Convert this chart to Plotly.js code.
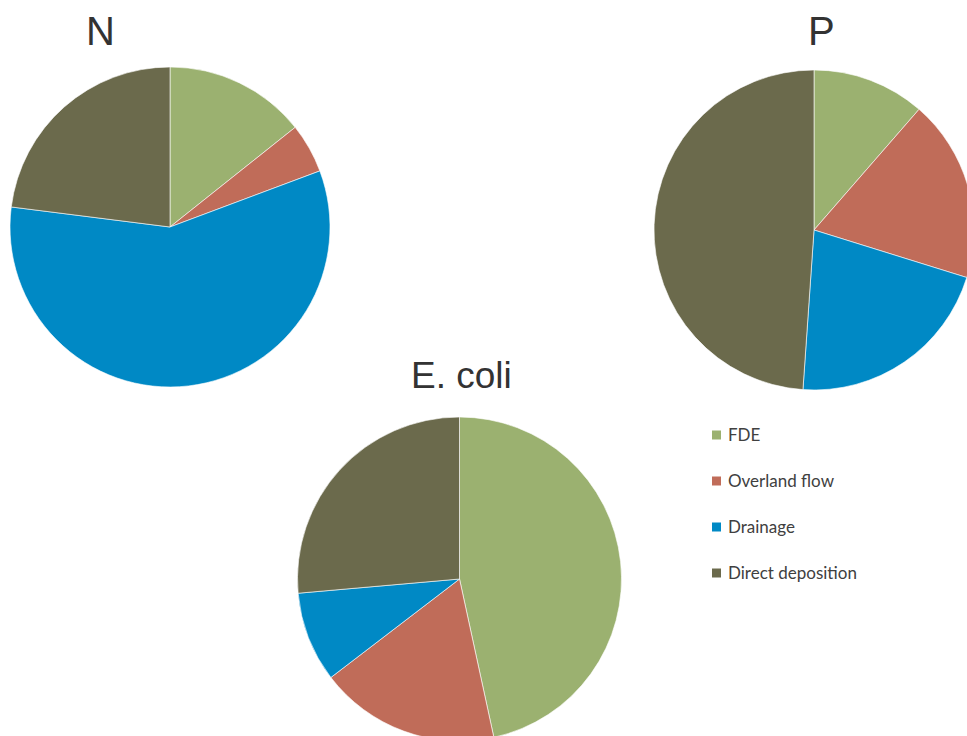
<!DOCTYPE html>
<html>
<head>
<meta charset="utf-8">
<script src="https://cdn.plot.ly/plotly-3.0.1.min.js"></script>
<style>
  html, body { margin: 0; padding: 0; overflow: hidden; background: #ffffff; width: 967px; height: 736px; }
  #chart { width: 1000px; height: 760px; }
</style>
</head>
<body>
<div id="chart"></div>
<script>
// ---- data ----
const categories = ["FDE", "Overland flow", "Drainage", "Direct deposition"];
const nValues = [14.3, 5.0, 57.7, 23.0];
const pValues = [11.4, 18.4, 21.3, 48.9];
const ecoliValues = [46.6, 18.0, 9.0, 26.4];
const pieTitles = ["N", "P", "E. coli"];
const sliceColors = ["#9BB170", "#C06C59", "#0089C5", "#6B6A4C"];

// ---- layout helpers (pixel geometry) ----
const W = 1000, H = 760;
function dom(cx, cy, r) {
  return {
    x: [(cx - r) / W, (cx + r) / W],
    y: [1 - (cy + r) / H, 1 - (cy - r) / H]
  };
}

function pieTrace(values, domain) {
  return {
    type: "pie",
    labels: categories,
    values: values,
    sort: false,
    direction: "clockwise",
    rotation: 0,
    textinfo: "none",
    hoverinfo: "label+percent",
    marker: { colors: sliceColors, line: { color: "#ffffff", width: 0.6 } },
    domain: domain,
    showlegend: false
  };
}

const data = [
  pieTrace(nValues, dom(170, 227, 160)),
  pieTrace(pValues, dom(814, 230, 160)),
  pieTrace(ecoliValues, dom(459.5, 579, 162))
];

const titlePos = [[100, 31, 40], [821, 31, 40], [461, 375, 37]];
const annotations = [];
const shapes = [];
pieTitles.forEach((t, i) => {
  annotations.push({
    text: t, xref: "paper", yref: "paper",
    x: titlePos[i][0] / W, y: 1 - titlePos[i][1] / H,
    xanchor: "center", yanchor: "middle", showarrow: false,
    font: { family: "Liberation Sans, Arial, sans-serif", size: titlePos[i][2], color: "#333333" }
  });
});

// custom legend
const legX = 712, legY0 = 435, legStep = 46, sq = 9;
categories.forEach((c, i) => {
  const yc = legY0 + i * legStep;
  shapes.push({
    type: "rect", xref: "paper", yref: "paper",
    x0: legX / W, x1: (legX + sq) / W,
    y0: 1 - (yc + sq / 2) / H, y1: 1 - (yc - sq / 2) / H,
    fillcolor: sliceColors[i], line: { width: 0 }
  });
  annotations.push({
    text: c, xref: "paper", yref: "paper",
    x: (legX + 14) / W, y: 1 - (yc - 1) / H,
    xanchor: "left", yanchor: "middle", showarrow: false,
    font: { family: "Lato, Open Sans, sans-serif", size: 17, color: "#404040" }
  });
});

const layout = {
  width: W, height: H,
  margin: { l: 0, r: 0, t: 0, b: 0, pad: 0 },
  paper_bgcolor: "#ffffff",
  plot_bgcolor: "#ffffff",
  showlegend: false,
  annotations: annotations,
  shapes: shapes
};

Plotly.newPlot("chart", data, layout, { displayModeBar: false, staticPlot: false });
</script>
</body>
</html>
